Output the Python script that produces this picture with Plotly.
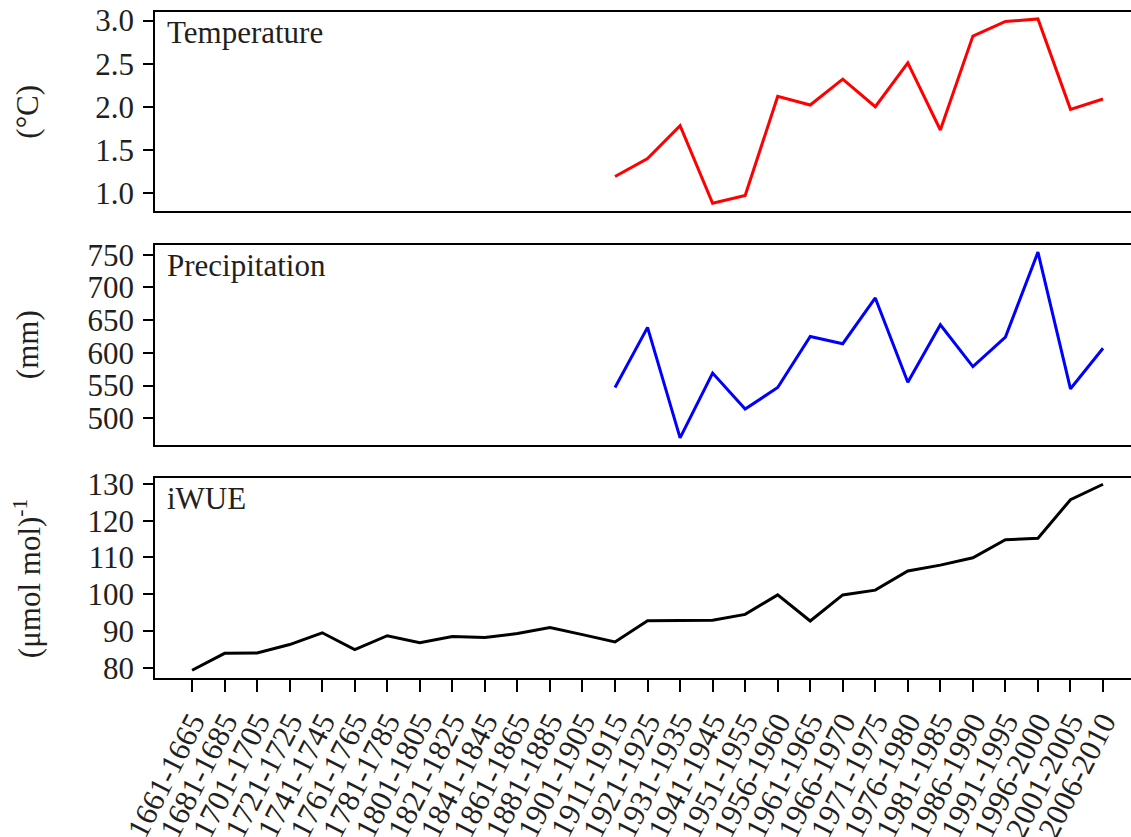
import plotly.graph_objects as go

periods = ["1661-1665", "1681-1685", "1701-1705", "1721-1725", "1741-1745", "1761-1765",
           "1781-1785", "1801-1805", "1821-1825", "1841-1845", "1861-1865", "1881-1885",
           "1901-1905", "1911-1915", "1921-1925", "1931-1935", "1941-1945", "1951-1955",
           "1956-1960", "1961-1965", "1966-1970", "1971-1975", "1976-1980", "1981-1985",
           "1986-1990", "1991-1995", "1996-2000", "2001-2005", "2006-2010"]

climate_periods = periods[13:]
temperature = [1.19, 1.40, 1.78, 0.88, 0.97, 2.12, 2.02, 2.32, 2.00, 2.51, 1.73, 2.82,
               2.99, 3.02, 1.97, 2.09]
precipitation = [547, 639, 470, 569, 514, 547, 625, 614, 684, 555, 643, 579, 624, 754,
                 545, 607]
iwue = [79.3, 83.9, 84.0, 86.3, 89.5, 84.9, 88.7, 86.8, 88.5, 88.2, 89.3, 90.9, 89.0,
        87.0, 92.8, 92.8, 92.9, 94.5, 99.8, 92.7, 99.8, 101.1, 106.3, 107.9, 109.9,
        114.8, 115.2, 125.7, 129.9]

FONT = "Liberation Serif"
TXT = "#231f20"
FS = 31

fig = go.Figure()
fig.add_trace(go.Scatter(x=climate_periods, y=temperature, mode="lines",
                         line=dict(color="#ff0000", width=3), xaxis="x", yaxis="y",
                         showlegend=False))
fig.add_trace(go.Scatter(x=climate_periods, y=precipitation, mode="lines",
                         line=dict(color="#0000ff", width=3), xaxis="x2", yaxis="y2",
                         showlegend=False))
fig.add_trace(go.Scatter(x=periods, y=iwue, mode="lines",
                         line=dict(color="#000000", width=3), xaxis="x3", yaxis="y3",
                         showlegend=False))

xrange = [-1.14, 28.86]
common_x = dict(type="category", categoryorder="array", categoryarray=periods,
                range=xrange, showline=True, linecolor="black", linewidth=1.5,
                mirror=True, showgrid=False, zeroline=False, automargin=False,
                tickmode="array", tickvals=periods, ticktext=periods)
common_y = dict(showline=True, linecolor="black", linewidth=1.5, showgrid=False,
                zeroline=False, ticks="outside", ticklen=10, tickwidth=1.5,
                tickcolor="black", tickfont=dict(family=FONT, size=FS, color=TXT),
                ticklabelstandoff=3, automargin=False)

fig.update_layout(
    width=1131, height=837,
    margin=dict(l=155, r=0, t=12, b=159),
    paper_bgcolor="white", plot_bgcolor="white",
    font=dict(family=FONT, size=FS, color=TXT),
    xaxis=dict(**common_x, domain=[0, 1], anchor="y", showticklabels=False, ticks=""),
    xaxis2=dict(**common_x, domain=[0, 1], anchor="y2", showticklabels=False, ticks=""),
    xaxis3=dict(**common_x, domain=[0, 1], anchor="y3", ticks="outside", ticklen=12,
                tickwidth=1.5, tickcolor="black", tickangle=-63,
                tickfont=dict(family=FONT, size=FS, color=TXT)),
    yaxis=dict(**common_y, domain=[0.7012, 1], anchor="x", range=[0.79, 3.10],
               tickvals=[1.0, 1.5, 2.0, 2.5, 3.0], ticktext=["1.0", "1.5", "2.0", "2.5", "3.0"]),
    yaxis2=dict(**common_y, domain=[0.3498, 0.6502], anchor="x2", range=[459, 765],
                tickvals=[500, 550, 600, 650, 700, 750]),
    yaxis3=dict(**common_y, domain=[0, 0.3003], anchor="x3", range=[77.2, 131.6],
                tickvals=[80, 90, 100, 110, 120, 130]),
)

panel_labels = [("Temperature", 1.0), ("Precipitation", 0.6502), ("iWUE", 0.3003)]
for text, ytop in panel_labels:
    fig.add_annotation(text=text, xref="paper", yref="paper", x=0.01, y=ytop - 0.002,
                       xanchor="left", yanchor="top", showarrow=False,
                       font=dict(family=FONT, size=FS, color=TXT))

unit_labels = [("(°C)", (0.7012 + 1) / 2), ("(mm)", 0.5),
               ("(μmol mol)<sup>-1</sup>", 0.3003 / 2)]
for text, yc in unit_labels:
    fig.add_annotation(text=text, xref="paper", yref="paper", x=-0.131, y=yc,
                       xanchor="center", yanchor="middle", textangle=-90, showarrow=False,
                       font=dict(family=FONT, size=FS, color=TXT))

fig.write_html("out.html")
